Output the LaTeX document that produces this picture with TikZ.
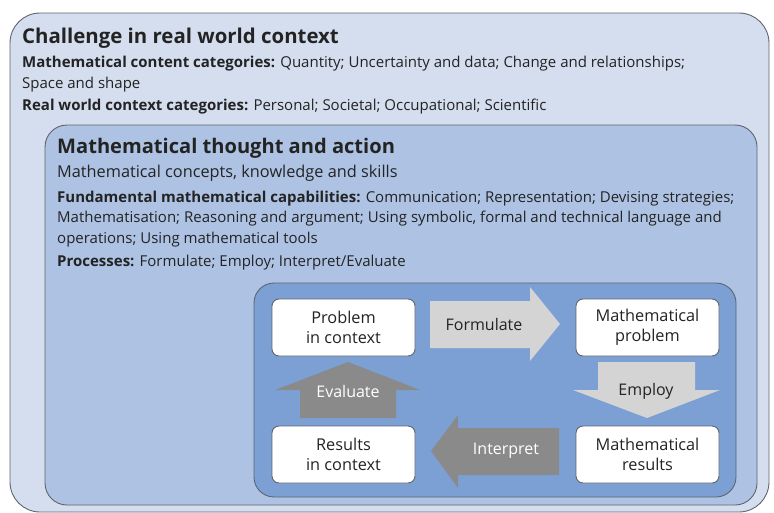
\documentclass[tikz,border=0pt]{standalone}
\usepackage{fontspec}
\setmainfont{Open Sans}
\definecolor{outerfill}{RGB}{213,222,239}
\definecolor{midfill}{RGB}{174,195,228}
\definecolor{innerfill}{RGB}{124,160,212}
\definecolor{boxline}{RGB}{95,100,110}
\definecolor{txt}{RGB}{35,35,35}
\definecolor{lightarrow}{RGB}{212,212,212}
\definecolor{darkarrow}{RGB}{138,138,138}
\tikzset{
  panel/.style={draw=boxline, line width=0.9pt},
  whitebox/.style={draw=boxline, line width=0.9pt, fill=white, rounded corners=7pt},
  boxtext/.style={align=center, text=txt, font=\fontsize{16.3}{19.5}\selectfont, inner sep=0pt},
  bodytext/.style={anchor=base west, text=txt, inner sep=0pt, font=\fontsize{15}{22}\selectfont},
  arrowtext/.style={inner sep=0pt, font=\fontsize{16}{19}\selectfont},
}
\begin{document}
\begin{tikzpicture}[x=1pt,y=-1pt]
\useasboundingbox (0,0) rectangle (774,512);
% outer panel
\begin{scope}
\clip (0,0) rectangle (774,512);
\draw[panel, fill=outerfill, rounded corners=30pt] (10,13) rectangle (769,512);
\end{scope}
% middle panel
\draw[panel, fill=midfill, rounded corners=22pt] (45,125) rectangle (757,505);
% inner panel
\draw[panel, fill=innerfill, rounded corners=20pt] (254,283) rectangle (736,497);

% texts outer
\node[bodytext, font=\fontsize{20.4}{24}\selectfont\bfseries] (t1) at (22,43) {Challenge in real world context};
\node[bodytext] (t2) at (22,67) {\textbf{Mathematical content categories:} Quantity; Uncertainty and data; Change and relationships;};
\node[bodytext] (t3) at (22,88) {Space and shape};
\node[bodytext] (t4) at (22,110) {\textbf{Real world context categories:} Personal; Societal; Occupational; Scientific};

% texts middle
\node[bodytext, font=\fontsize{20.1}{24}\selectfont\bfseries] (m1) at (57,153) {Mathematical thought and action};
\node[bodytext, font=\fontsize{16.3}{20}\selectfont] (m2) at (57,177) {Mathematical concepts, knowledge and skills};
\node[bodytext] (m3) at (57,202) {\textbf{Fundamental mathematical capabilities:} Communication; Representation; Devising strategies;};
\node[bodytext] (m4) at (57,222) {Mathematisation; Reasoning and argument; Using symbolic, formal and technical language and};
\node[bodytext] (m5) at (57,243) {operations; Using mathematical tools};
\node[bodytext] (m6) at (57,266) {\textbf{Processes:} Formulate; Employ; Interpret/Evaluate};

% white boxes
\draw[whitebox] (272,299) rectangle (415,356);
\node[boxtext] (pic) at (343.5,327.5) {Problem\\in context};
\draw[whitebox] (576,299) rectangle (719,356);
\node[boxtext] (mp) at (647.5,327.5) {Mathematical\\problem};
\draw[whitebox] (272,426) rectangle (415,483);
\node[boxtext] (ric) at (343.5,454.5) {Results\\in context};
\draw[whitebox] (576,426) rectangle (719,483);
\node[boxtext] (mr) at (647.5,454.5) {Mathematical\\results};

% arrows
\fill[lightarrow] (430,301) -- (530,301) -- (530,287) -- (560,324) -- (530,361) -- (530,348) -- (430,348) -- cycle;
\node[arrowtext, text=txt] (fl) at (484,324) {Formulate};
\fill[lightarrow] (598,362) -- (695,362) -- (695,390) -- (720,390) -- (647,418) -- (573,390) -- (598,390) -- cycle;
\node[arrowtext, text=txt] (em) at (646,391) {Employ};
\fill[darkarrow] (559,428) -- (458,428) -- (458,415) -- (431,451) -- (458,488) -- (458,475) -- (559,475) -- cycle;
\node[arrowtext, text=white] (ip) at (506,451) {Interpret};
\fill[darkarrow] (300,418) -- (396,418) -- (396,390) -- (420,390) -- (348,362) -- (275,390) -- (300,390) -- cycle;
\node[arrowtext, text=white] (ev) at (348,391) {Evaluate};
\end{tikzpicture}
\end{document}
